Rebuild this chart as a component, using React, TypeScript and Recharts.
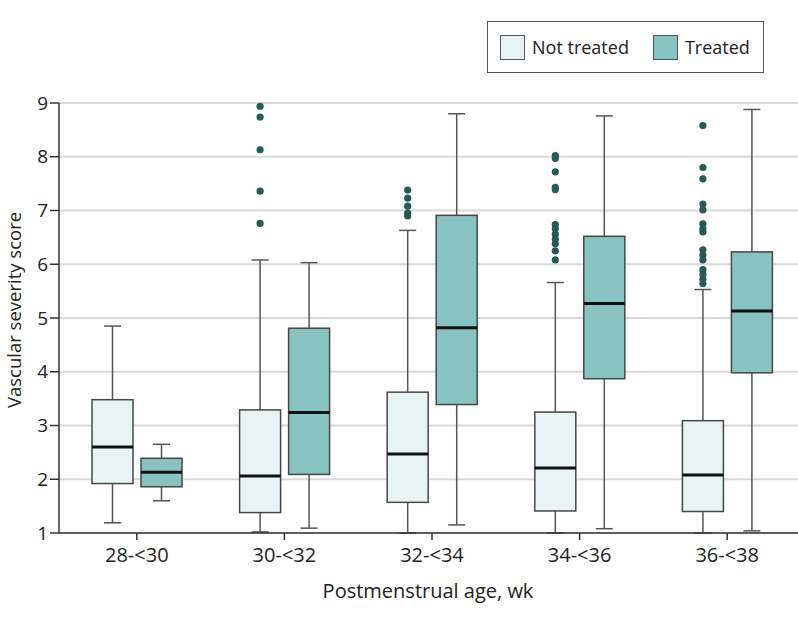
import React from "react";
import { Bar, CartesianGrid, ComposedChart, Legend, XAxis, YAxis } from "recharts";

const categories = ["28-<30", "30-<32", "32-<34", "34-<36", "36-<38"];
const yTicks = [1, 2, 3, 4, 5, 6, 7, 8, 9];

// Not treated
const ntLow = [1.19, 1.02, 1.0, 1.0, 1.0];
const ntQ1 = [1.92, 1.38, 1.57, 1.41, 1.4];
const ntMed = [2.6, 2.06, 2.47, 2.21, 2.08];
const ntQ3 = [3.48, 3.29, 3.62, 3.25, 3.09];
const ntHigh = [4.85, 6.08, 6.63, 5.66, 5.53];
const ntOutliers = [
  [],
  [8.94, 8.74, 8.13, 7.36, 6.76],
  [7.38, 7.23, 7.08, 6.95, 6.9],
  [8.02, 7.97, 7.72, 7.43, 7.39, 6.74, 6.66, 6.56, 6.47, 6.38, 6.25, 6.08],
  [8.58, 7.8, 7.59, 7.12, 7.01, 6.75, 6.66, 6.6, 6.27, 6.17, 6.08, 5.9, 5.81, 5.72, 5.64],
];

// Treated
const trLow = [1.6, 1.09, 1.15, 1.08, 1.04];
const trQ1 = [1.86, 2.09, 3.39, 3.87, 3.98];
const trMed = [2.13, 3.24, 4.82, 5.27, 5.13];
const trQ3 = [2.39, 4.81, 6.91, 6.52, 6.23];
const trHigh = [2.65, 6.03, 8.8, 8.76, 8.88];
const trOutliers: number[][] = [[], [], [], [], []];

const NT_FILL = "#e8f3f3";
const TR_FILL = "#86c3c1";
const DOT = "#265a57";
const INK = "#222";
const FONT = "'Open Sans', sans-serif";

const data = categories.map((name, i) => ({
  name,
  ntRange: [ntLow[i], ntHigh[i]],
  trRange: [trLow[i], trHigh[i]],
  nt: { low: ntLow[i], q1: ntQ1[i], med: ntMed[i], q3: ntQ3[i], high: ntHigh[i], out: ntOutliers[i] },
  tr: { low: trLow[i], q1: trQ1[i], med: trMed[i], q3: trQ3[i], high: trHigh[i], out: trOutliers[i] },
}));

function boxShape(key: "nt" | "tr", fill: string) {
  return (props: any) => {
    const { x, y, width, height, payload } = props;
    const s = payload[key];
    const top = Math.min(y, y + height);
    const bottom = Math.max(y, y + height);
    // map a value through the bar's scaled extent (low..high)
    const py = (v: number) => bottom - ((v - s.low) / (s.high - s.low)) * (bottom - top);
    const cx = x + width / 2;
    const cap = 8.5;
    return (
      <g>
        <line x1={cx} x2={cx} y1={py(s.high)} y2={py(s.q3)} stroke="#555" strokeWidth={1.5} />
        <line x1={cx} x2={cx} y1={py(s.q1)} y2={py(s.low)} stroke="#555" strokeWidth={1.5} />
        <line x1={cx - cap} x2={cx + cap} y1={py(s.high)} y2={py(s.high)} stroke="#555" strokeWidth={1.5} />
        <line x1={cx - cap} x2={cx + cap} y1={py(s.low)} y2={py(s.low)} stroke="#555" strokeWidth={1.5} />
        <rect x={x} y={py(s.q3)} width={width} height={py(s.q1) - py(s.q3)} fill={fill} stroke="#474747" strokeWidth={1.5} />
        <line x1={x} x2={x + width} y1={py(s.med)} y2={py(s.med)} stroke="#111" strokeWidth={3} />
        {s.out.map((v: number, j: number) => (
          <circle key={j} cx={cx} cy={py(v)} r={3.6} fill={DOT} />
        ))}
      </g>
    );
  };
}

const LegendBox = (props: any) => {
  const items = props.payload ?? [];
  return (
    <div
      style={{
        boxSizing: "border-box",
        width: 277,
        height: 52,
        border: "1.5px solid #555",
        display: "flex",
        alignItems: "center",
        fontFamily: FONT,
        fontSize: 18,
        color: INK,
        paddingLeft: 12,
      }}
    >
      {items.map((it: any, i: number) => (
        <div key={i} style={{ display: "flex", alignItems: "center", marginLeft: i ? 24 : 0 }}>
          <span
            style={{
              boxSizing: "border-box",
              width: 25,
              height: 25,
              background: it.color,
              border: "1.5px solid #555",
              marginRight: 7,
            }}
          />
          <span>{it.value}</span>
        </div>
      ))}
    </div>
  );
};

export default function App() {
  return (
    <div style={{ position: "absolute", left: 0, top: 0, fontFamily: FONT }}>
      <ComposedChart
        width={798}
        height={619}
        data={data}
        barSize={41}
        barGap={8}
        margin={{ top: 103, right: -3, left: 0, bottom: 0 }}
      >
        <CartesianGrid vertical={false} stroke="#dadada" strokeWidth={2} />
        <XAxis
          dataKey="name"
          height={86}
          padding={{ left: 4, right: 0 }}
          tickSize={7}
          tickMargin={8}
          tick={{ fill: INK, fontSize: 20 }}
          axisLine={{ stroke: "#333", strokeWidth: 1.5 }}
          tickLine={{ stroke: "#333", strokeWidth: 1.5 }}
          label={{
            content: ({ viewBox }: any) => (
              <text x={428} y={viewBox.y + 57} textAnchor="middle" dominantBaseline="central" fill={INK} fontSize={20}>
                Postmenstrual age, wk
              </text>
            ),
          }}
        />
        <YAxis
          width={59}
          domain={[1, 9]}
          ticks={yTicks}
          interval={0}
          tickSize={9}
          tickMargin={2}
          tick={{ fill: INK, fontSize: 19 }}
          axisLine={{ stroke: "#333", strokeWidth: 1.5 }}
          tickLine={{ stroke: "#333", strokeWidth: 1.5 }}
          label={{
            content: ({ viewBox }: any) => {
              const cx = 13.5;
              const cy = viewBox.y + viewBox.height / 2 - 8;
              return (
                <text x={cx} y={cy} transform={`rotate(-90, ${cx}, ${cy})`} textAnchor="middle" dominantBaseline="central" fill={INK} fontSize={18.5}>
                  Vascular severity score
                </text>
              );
            },
          }}
        />
        <Legend
          verticalAlign="middle"
          align="center"
          layout="horizontal"
          content={<LegendBox />}
          wrapperStyle={{ top: 21, left: 487, width: 277, height: 52 }}
        />
        <Bar dataKey="ntRange" name="Not treated" fill={NT_FILL} shape={boxShape("nt", NT_FILL)} isAnimationActive={false} />
        <Bar dataKey="trRange" name="Treated" fill={TR_FILL} shape={boxShape("tr", TR_FILL)} isAnimationActive={false} />
      </ComposedChart>
    </div>
  );
}
